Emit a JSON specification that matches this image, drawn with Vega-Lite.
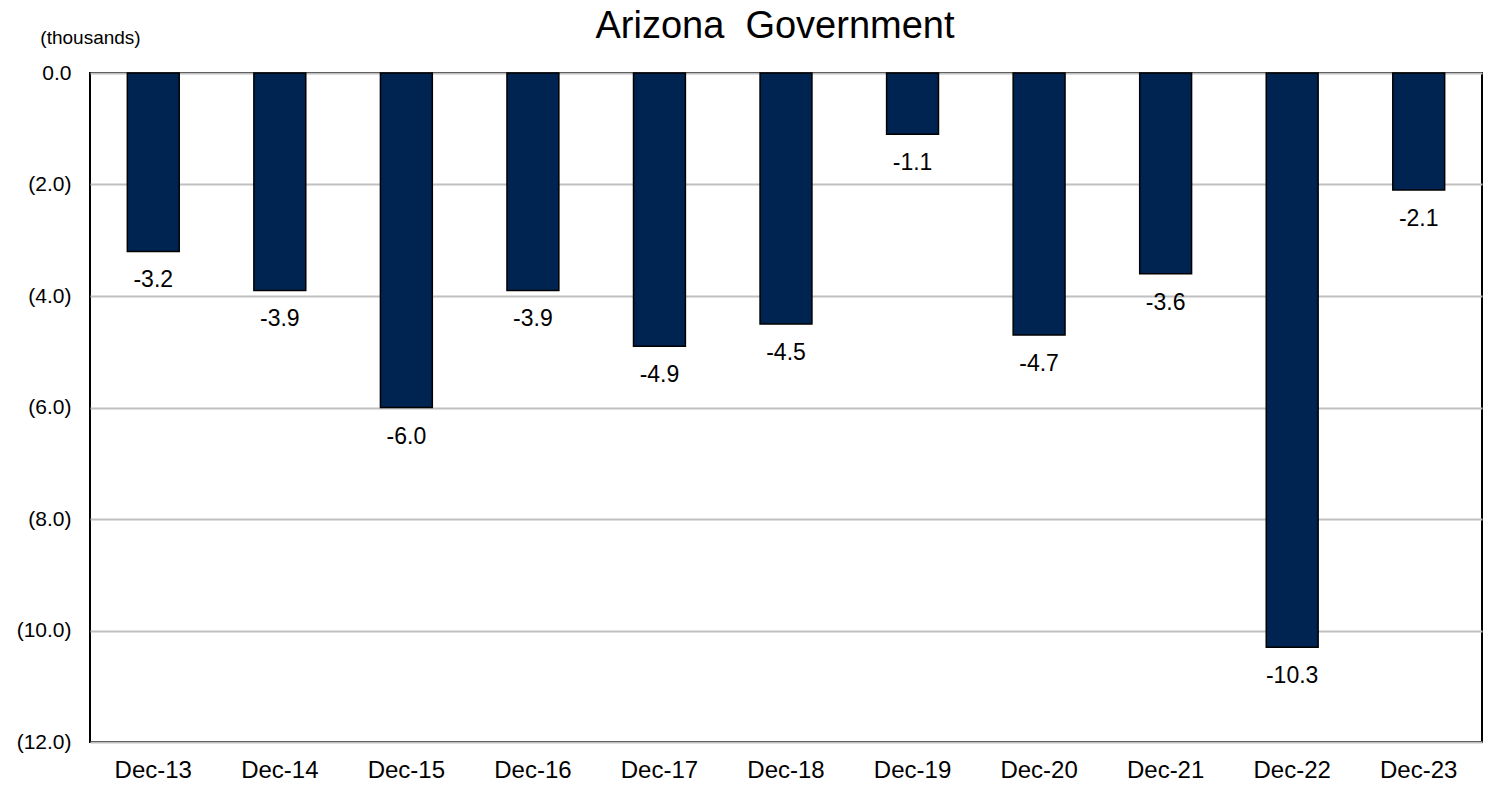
{
  "$schema": "https://vega.github.io/schema/vega-lite/v6.json",
  "autosize": {"type": "none"},
  "padding": {"left": 90, "top": 73, "right": 4, "bottom": 43},
  "width": 1392,
  "height": 669,
  "background": "white",
  "title": {
    "text": "Arizona\u00a0\u00a0Government",
    "font": "Liberation Sans",
    "fontSize": 38,
    "fontWeight": "normal",
    "color": "black",
    "anchor": "middle",
    "frame": "group",
    "offset": -18,
    "dx": -11
  },
  "config": {
    "view": {"stroke": "black", "strokeWidth": 2},
    "font": "Liberation Sans"
  },
  "data": {
    "values": [
      {"month": "Dec-13", "value": -3.2},
      {"month": "Dec-14", "value": -3.9},
      {"month": "Dec-15", "value": -6.0},
      {"month": "Dec-16", "value": -3.9},
      {"month": "Dec-17", "value": -4.9},
      {"month": "Dec-18", "value": -4.5},
      {"month": "Dec-19", "value": -1.1},
      {"month": "Dec-20", "value": -4.7},
      {"month": "Dec-21", "value": -3.6},
      {"month": "Dec-22", "value": -10.3},
      {"month": "Dec-23", "value": -2.1}
    ]
  },
  "transform": [
    {"calculate": "replace(format(datum.value, '.1f'), '\u2212', '-')", "as": "label"}
  ],
  "encoding": {
    "x": {
      "field": "month",
      "type": "nominal",
      "sort": null,
      "scale": {"paddingInner": 0.59, "paddingOuter": 0.295},
      "axis": {
        "title": null,
        "labelAngle": 0,
        "labelFontSize": 24,
        "labelColor": "black",
        "labelPadding": 16,
        "ticks": false,
        "domain": false
      }
    },
    "y": {
      "field": "value",
      "type": "quantitative",
      "scale": {"domain": [-12, 0], "nice": false},
      "axis": {
        "values": [0, -2, -4, -6, -8, -10, -12],
        "labelExpr": "datum.value == 0 ? '0.0' : '(' + format(abs(datum.value), '.1f') + ')'",
        "labelFontSize": 21,
        "labelColor": "black",
        "labelPadding": 19,
        "ticks": false,
        "domain": false,
        "grid": true,
        "gridColor": "#c0c0c0",
        "gridWidth": 2,
        "title": "(thousands)",
        "titleAngle": 0,
        "titleAlign": "center",
        "titleBaseline": "middle",
        "titleX": 0,
        "titleY": -36,
        "titleFontSize": 19,
        "titleFontWeight": "normal",
        "titleColor": "black"
      }
    }
  },
  "layer": [
    {
      "mark": {"type": "bar", "color": "#002452", "stroke": "black", "strokeWidth": 1.5}
    },
    {
      "mark": {"type": "text", "baseline": "top", "dy": 18, "fontSize": 23, "color": "black"},
      "encoding": {
        "text": {"field": "label", "type": "nominal"}
      }
    }
  ]
}
